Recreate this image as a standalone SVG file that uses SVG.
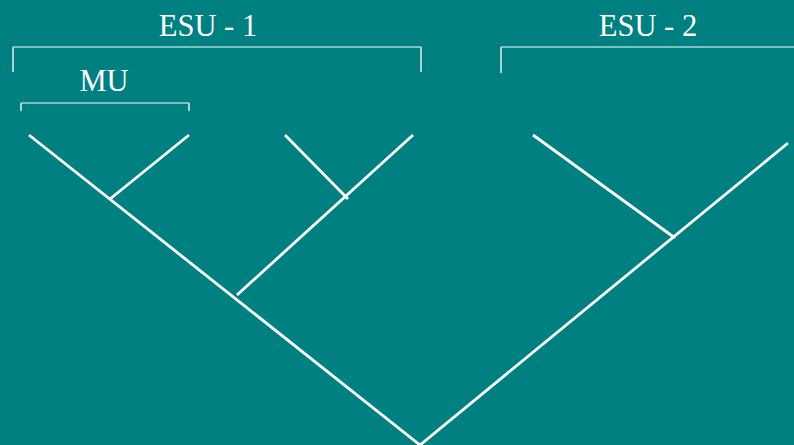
<svg xmlns="http://www.w3.org/2000/svg" width="794" height="445" viewBox="0 0 794 445">
<style>
.lbl{font-family:"Liberation Serif","Times New Roman",serif;font-size:30.5px;fill:#ffffff;text-anchor:middle}
.br{stroke:#ffffff;stroke-width:1.2;fill:none}
.tick{stroke:#a8d4d0;stroke-width:2;fill:none}
.edge{stroke:#ffffff;stroke-width:2.8;fill:none;stroke-linecap:butt}
</style>
<rect width="794" height="445" fill="#008080"/>
<g id="esu1">
<text class="lbl" x="208" y="36">ESU - 1</text>
<line class="br" x1="13" y1="47" x2="421" y2="47"/>
<line class="tick" x1="13" y1="47" x2="13" y2="72"/>
<line class="tick" x1="421" y1="47" x2="421" y2="72"/>
</g>
<g id="esu2">
<text class="lbl" x="648" y="36">ESU - 2</text>
<line class="br" x1="501" y1="47" x2="794" y2="47"/>
<line class="tick" x1="501" y1="47" x2="501" y2="73"/>
</g>
<g id="mu">
<text class="lbl" x="104" y="91">MU</text>
<line class="br" x1="21" y1="103" x2="189" y2="103"/>
<line class="tick" x1="21" y1="103" x2="21" y2="111"/>
<line class="tick" x1="189" y1="103" x2="189" y2="111"/>
</g>
<g id="connectors">
<line class="edge" x1="29" y1="135" x2="420" y2="445"/>
<line class="edge" x1="788" y1="143" x2="420" y2="445"/>
<line class="edge" x1="189" y1="135" x2="110" y2="199"/>
<line class="edge" x1="413" y1="135" x2="237" y2="295"/>
<line class="edge" x1="285" y1="135" x2="348" y2="199"/>
<line class="edge" x1="533" y1="135" x2="675" y2="238"/>
</g>
</svg>
